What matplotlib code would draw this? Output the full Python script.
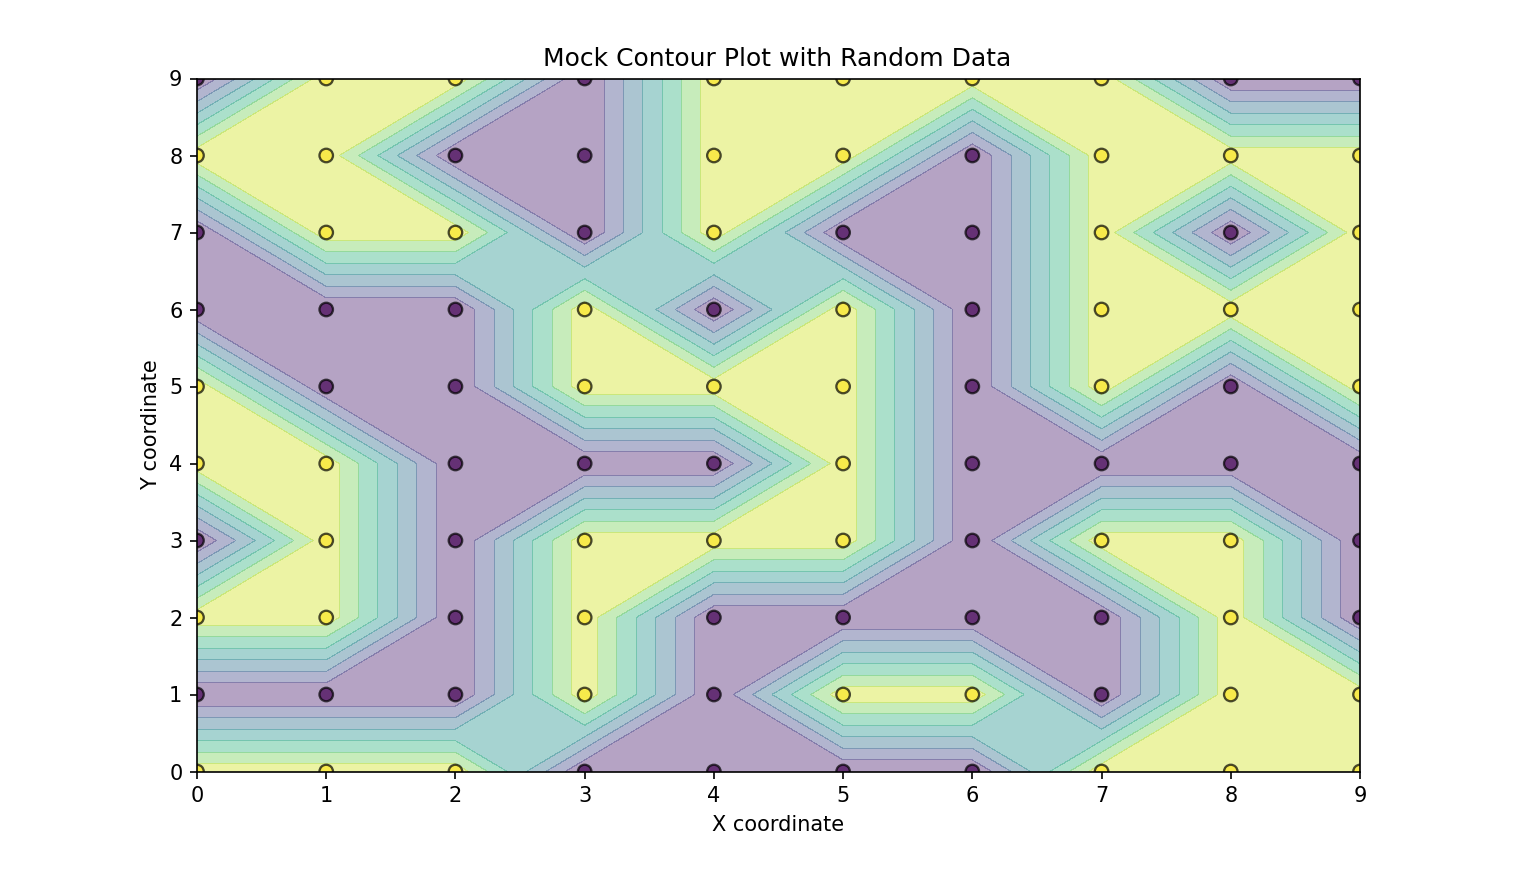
import numpy as np
import matplotlib
matplotlib.use('Agg')
import matplotlib.pyplot as plt

# grid coordinates
x_vals = np.arange(10)
y_vals = np.arange(10)

# values, one list per row, y = 0 first
row_0 = [1, 1, 1, 0, 0, 0, 0, 1, 1, 1]
row_1 = [0, 0, 0, 1, 0, 1, 1, 0, 1, 1]
row_2 = [1, 1, 0, 1, 0, 0, 0, 0, 1, 0]
row_3 = [0, 1, 0, 1, 1, 1, 0, 1, 1, 0]
row_4 = [1, 1, 0, 0, 0, 1, 0, 0, 0, 0]
row_5 = [1, 0, 0, 1, 1, 1, 0, 1, 0, 1]
row_6 = [0, 0, 0, 1, 0, 1, 0, 1, 1, 1]
row_7 = [0, 1, 1, 0, 1, 0, 0, 1, 0, 1]
row_8 = [1, 1, 0, 0, 1, 1, 0, 1, 1, 1]
row_9 = [0, 1, 1, 0, 1, 1, 1, 1, 0, 0]

Z = np.array([row_0, row_1, row_2, row_3, row_4,
              row_5, row_6, row_7, row_8, row_9])
X, Y = np.meshgrid(x_vals, y_vals)

fig = plt.figure(figsize=(1533 / 150, 882 / 150), dpi=150)
ax = fig.add_axes([197 / 1533, 1 - 771.5 / 882, 1163 / 1533, 693 / 882])

ax.contourf(X, Y, Z, alpha=0.4, cmap='viridis')
ax.scatter(X.ravel(), Y.ravel(), c=Z.ravel(), cmap='viridis', s=42,
           edgecolors='k', linewidths=1.1, alpha=0.7)

ax.set_xticks(x_vals)
ax.set_yticks(y_vals)
ax.set_title('Mock Contour Plot with Random Data', fontsize=12, x=0.4992)
ax.set_xlabel('X coordinate', labelpad=4.5, x=0.4992)
ax.set_ylabel('Y coordinate')

fig.savefig('out.png', dpi=150)
